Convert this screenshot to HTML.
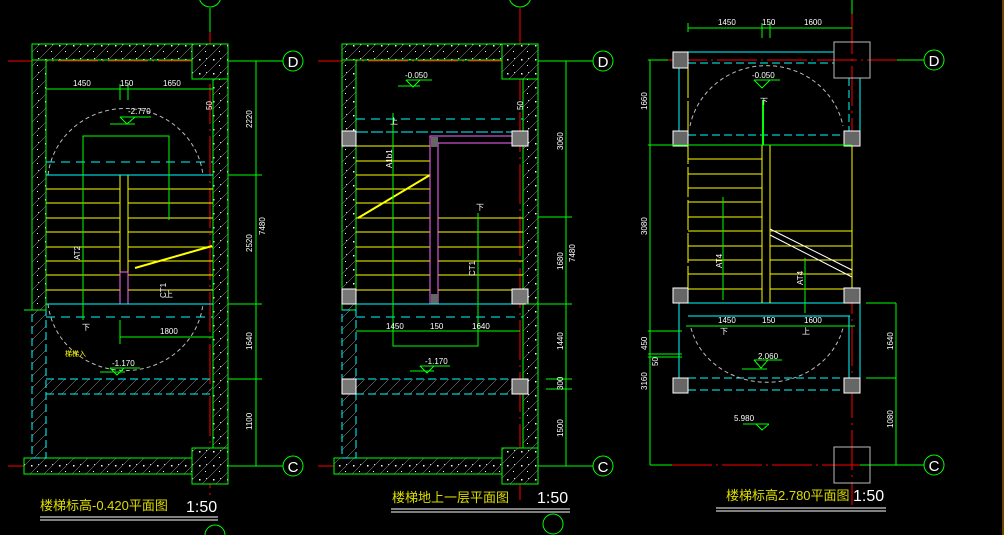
<!DOCTYPE html>
<html><head><meta charset="utf-8"><style>
html,body{margin:0;padding:0;background:#000;}
svg{display:block}
text{font-family:"Liberation Sans","Noto Sans CJK SC",sans-serif;}
</style></head><body>
<svg width="1004" height="535" viewBox="0 0 1004 535" xmlns="http://www.w3.org/2000/svg" shape-rendering="crispEdges">
<defs>
<pattern id="con" width="14" height="14" patternUnits="userSpaceOnUse">
<rect width="14" height="14" fill="#000"/>
<path d="M0 14L14 0" stroke="#ccc" stroke-width="0.8"/>
<rect x="3" y="3" width="1.5" height="1.5" fill="#fff"/><rect x="9" y="9" width="1.2" height="1.2" fill="#fff"/><rect x="10" y="2" width="1" height="1" fill="#ddd"/>
</pattern>
<pattern id="hat" width="12" height="12" patternUnits="userSpaceOnUse">
<path d="M0 12L12 0" stroke="#ccc" stroke-width="0.8"/>
</pattern>
</defs>
<rect width="1004" height="535" fill="#000"/>
<line x1="1003" y1="0" x2="1003" y2="535" stroke="#d08a00" stroke-width="1"/>

<g>
<line x1="8" y1="61" x2="228" y2="61" stroke="#f00" stroke-dasharray="40,4,2,4"/>
<line x1="228" y1="61" x2="283" y2="61" stroke="#0f0"/>
<line x1="8" y1="466" x2="228" y2="466" stroke="#f00" stroke-dasharray="40,4,2,4"/>
<line x1="228" y1="466" x2="283" y2="466" stroke="#0f0"/>
<line x1="210" y1="8" x2="210" y2="32" stroke="#0f0"/>
<line x1="210" y1="32" x2="210" y2="500" stroke="#f00" stroke-dasharray="40,5,2,5"/>
<circle cx="210" cy="-4" r="11" fill="none" stroke="#0f0" shape-rendering="auto"/>
<circle cx="293" cy="61" r="10" fill="none" stroke="#0f0" shape-rendering="auto"/>
<text x="293" y="67" fill="#fff" font-size="15" text-anchor="middle">D</text>
<circle cx="293" cy="466" r="10" fill="none" stroke="#0f0" shape-rendering="auto"/>
<text x="293" y="472" fill="#fff" font-size="15" text-anchor="middle">C</text>
<circle cx="215" cy="535" r="10" fill="none" stroke="#0f0" shape-rendering="auto"/>
<rect x="32" y="44" width="196" height="16" fill="url(#con)" stroke="#0f0"/>
<rect x="32" y="60" width="14" height="250" fill="url(#con)" stroke="#0f0"/>
<rect x="192" y="44" width="36" height="35" fill="url(#con)" stroke="#0f0"/>
<rect x="213" y="79" width="15" height="370" fill="url(#con)" stroke="#0f0"/>
<rect x="24" y="458" width="168" height="16" fill="url(#con)" stroke="#0f0"/>
<rect x="192" y="448" width="36" height="36" fill="url(#con)" stroke="#0f0"/>
<rect x="32" y="310" width="14" height="148" fill="url(#hat)" stroke="#0ff" stroke-dasharray="8,4"/>
<line x1="24" y1="310" x2="46" y2="310" stroke="#0f0"/>
<rect x="46" y="379" width="167" height="15" fill="url(#hat)"/>
<line x1="46" y1="379" x2="213" y2="379" stroke="#0ff" stroke-dasharray="8,4"/>
<line x1="46" y1="394" x2="213" y2="394" stroke="#0ff" stroke-dasharray="8,4"/>
<g stroke="#ff0">
<line x1="46" y1="189" x2="120" y2="189"/><line x1="46" y1="203" x2="120" y2="203"/><line x1="46" y1="218" x2="120" y2="218"/><line x1="46" y1="232" x2="120" y2="232"/><line x1="46" y1="247" x2="120" y2="247"/><line x1="46" y1="261" x2="120" y2="261"/><line x1="46" y1="275" x2="120" y2="275"/><line x1="46" y1="290" x2="120" y2="290"/>
<line x1="128" y1="189" x2="213" y2="189"/><line x1="128" y1="203" x2="213" y2="203"/><line x1="128" y1="218" x2="213" y2="218"/><line x1="128" y1="232" x2="213" y2="232"/><line x1="128" y1="247" x2="213" y2="247"/><line x1="128" y1="261" x2="213" y2="261"/><line x1="128" y1="275" x2="213" y2="275"/><line x1="128" y1="290" x2="213" y2="290"/>
<line x1="120" y1="175" x2="120" y2="304"/><line x1="128" y1="175" x2="128" y2="304"/>
<line x1="135" y1="268" x2="212" y2="246" stroke-width="2" shape-rendering="auto"/>
</g>
<rect x="120" y="272" width="8" height="32" fill="none" stroke="#f6f"/>
<line x1="46" y1="162" x2="213" y2="162" stroke="#0ff" stroke-dasharray="9,6"/>
<line x1="46" y1="175" x2="213" y2="175" stroke="#0ff"/>
<line x1="46" y1="304" x2="213" y2="304" stroke="#0ff"/>
<line x1="46" y1="317" x2="213" y2="317" stroke="#0ff" stroke-dasharray="9,6"/>
<path d="M48 175A78 75 0 0 1 203 175" fill="none" stroke="#bbb" stroke-dasharray="4,3" shape-rendering="auto"/>
<path d="M48 304A78 75 0 0 0 203 304" fill="none" stroke="#bbb" stroke-dasharray="4,3" shape-rendering="auto"/>
<g stroke="#0f0" fill="none">
<path d="M83 320V136H169V220"/>
<line x1="46" y1="89" x2="213" y2="89"/>
<line x1="120" y1="84" x2="120" y2="100"/><line x1="128" y1="84" x2="128" y2="100"/>
<path d="M120 117H151M110 124H135M120 117L127 124L135 117"/>
<path d="M120 320V344M120 337H213"/>
<path d="M110 368H140M100 372H125M110 368L117 375L124 368"/>
<line x1="256" y1="61" x2="256" y2="466"/>
<line x1="228" y1="175" x2="262" y2="175"/><line x1="228" y1="304" x2="262" y2="304"/><line x1="228" y1="379" x2="262" y2="379"/>
</g>
<g fill="#fff" font-size="8">
<text x="73" y="86">1450</text><text x="120" y="86">150</text><text x="163" y="86">1650</text>
<text x="128" y="114">-2.770</text><text x="112" y="366">-1.170</text><text x="160" y="334">1800</text>
<text x="82" y="330">下</text><text x="165" y="297">上</text>
<text transform="translate(252,128) rotate(-90)">2220</text><text transform="translate(252,252) rotate(-90)">2520</text>
<text transform="translate(252,350) rotate(-90)">1640</text><text transform="translate(252,430) rotate(-90)">1100</text>
<text transform="translate(265,235) rotate(-90)">7480</text><text transform="translate(80,260) rotate(-90)">AT2</text>
<text transform="translate(166,298) rotate(-90)">CT1</text><text transform="translate(212,110) rotate(-90)">50</text>
</g>
<text x="65" y="356" fill="#ff0" font-size="7">梯梯入</text>
<text x="40" y="510" fill="#dd0" font-size="13">楼梯标高-0.420平面图</text>
<text x="186" y="512" fill="#fff" font-size="16">1:50</text>
<line x1="40" y1="517" x2="218" y2="517" stroke="#fff"/><line x1="40" y1="520" x2="218" y2="520" stroke="#fff"/>
</g>

<g>
<line x1="318" y1="61" x2="538" y2="61" stroke="#f00" stroke-dasharray="40,4,2,4"/>
<line x1="538" y1="61" x2="593" y2="61" stroke="#0f0"/>
<line x1="318" y1="466" x2="538" y2="466" stroke="#f00" stroke-dasharray="40,4,2,4"/>
<line x1="538" y1="466" x2="593" y2="466" stroke="#0f0"/>
<line x1="520" y1="8" x2="520" y2="500" stroke="#f00" stroke-dasharray="40,5,2,5"/>
<circle cx="520" cy="-4" r="11" fill="none" stroke="#0f0" shape-rendering="auto"/>
<circle cx="603" cy="61" r="10" fill="none" stroke="#0f0" shape-rendering="auto"/>
<text x="603" y="67" fill="#fff" font-size="15" text-anchor="middle">D</text>
<circle cx="603" cy="466" r="10" fill="none" stroke="#0f0" shape-rendering="auto"/>
<text x="603" y="472" fill="#fff" font-size="15" text-anchor="middle">C</text>
<circle cx="553" cy="524" r="10" fill="none" stroke="#0f0" shape-rendering="auto"/>
<rect x="342" y="44" width="196" height="16" fill="url(#con)" stroke="#0f0"/>
<rect x="342" y="60" width="14" height="250" fill="url(#con)" stroke="#0f0"/>
<rect x="502" y="44" width="36" height="35" fill="url(#con)" stroke="#0f0"/>
<rect x="523" y="79" width="15" height="370" fill="url(#con)" stroke="#0f0"/>
<rect x="334" y="458" width="168" height="16" fill="url(#con)" stroke="#0f0"/>
<rect x="502" y="448" width="36" height="36" fill="url(#con)" stroke="#0f0"/>
<rect x="342" y="310" width="14" height="148" fill="url(#hat)" stroke="#0ff" stroke-dasharray="8,4"/>
<rect x="356" y="379" width="167" height="15" fill="url(#hat)"/>
<line x1="356" y1="379" x2="523" y2="379" stroke="#0ff" stroke-dasharray="8,4"/>
<line x1="356" y1="394" x2="523" y2="394" stroke="#0ff" stroke-dasharray="8,4"/>
<g stroke="#ff0">
<line x1="356" y1="146" x2="430" y2="146"/><line x1="356" y1="161" x2="430" y2="161"/><line x1="356" y1="175" x2="430" y2="175"/><line x1="356" y1="189" x2="430" y2="189"/><line x1="356" y1="203" x2="430" y2="203"/><line x1="356" y1="218" x2="430" y2="218"/><line x1="356" y1="232" x2="430" y2="232"/><line x1="356" y1="247" x2="430" y2="247"/><line x1="356" y1="261" x2="430" y2="261"/><line x1="356" y1="275" x2="430" y2="275"/><line x1="356" y1="290" x2="430" y2="290"/>
<line x1="438" y1="218" x2="523" y2="218"/><line x1="438" y1="232" x2="523" y2="232"/><line x1="438" y1="247" x2="523" y2="247"/><line x1="438" y1="261" x2="523" y2="261"/><line x1="438" y1="275" x2="523" y2="275"/><line x1="438" y1="290" x2="523" y2="290"/>
<line x1="358" y1="218" x2="430" y2="175" stroke-width="2" shape-rendering="auto"/>
</g>
<path d="M430 304V136H521V143H438V304Z" fill="none" stroke="#f6f"/>
<rect x="431" y="137" width="7" height="10" fill="#666"/><rect x="431" y="294" width="7" height="10" fill="#666"/>
<line x1="356" y1="119" x2="523" y2="119" stroke="#0ff" stroke-dasharray="9,6"/>
<line x1="356" y1="132" x2="523" y2="132" stroke="#0ff" stroke-dasharray="12,3"/>
<line x1="356" y1="304" x2="523" y2="304" stroke="#0ff"/>
<line x1="356" y1="317" x2="523" y2="317" stroke="#0ff" stroke-dasharray="9,6"/>
<g fill="#777" stroke="#fff">
<rect x="342" y="131" width="14" height="15"/><rect x="512" y="131" width="16" height="15"/>
<rect x="342" y="289" width="14" height="15"/><rect x="512" y="289" width="16" height="15"/>
<rect x="342" y="379" width="14" height="15"/><rect x="512" y="379" width="16" height="15"/>
</g>
<g stroke="#0f0" fill="none">
<path d="M393 113V346H478V213"/>
<line x1="356" y1="331" x2="520" y2="331"/>
<path d="M406 80H432M398 86H420M406 80L413 87L420 80"/>
<path d="M420 366H450M410 371H434M420 366L427 373L434 366"/>
<line x1="566" y1="61" x2="566" y2="466"/>
<line x1="538" y1="217" x2="572" y2="217"/><line x1="526" y1="304" x2="572" y2="304"/><line x1="546" y1="379" x2="572" y2="379"/><line x1="546" y1="389" x2="572" y2="389"/>
</g>
<g fill="#fff" font-size="8">
<text x="386" y="329">1450</text><text x="430" y="329">150</text><text x="472" y="329">1640</text>
<text x="405" y="78">-0.050</text><text x="425" y="364">-1.170</text>
<text x="390" y="124">上</text><text x="476" y="210">下</text>
<text transform="translate(563,150) rotate(-90)">3060</text><text transform="translate(563,270) rotate(-90)">1680</text>
<text transform="translate(563,350) rotate(-90)">1440</text><text transform="translate(563,390) rotate(-90)">300</text><text transform="translate(563,437) rotate(-90)">1500</text>
<text transform="translate(575,262) rotate(-90)">7480</text><text transform="translate(392,168) rotate(-90)">A1b1</text>
<text transform="translate(475,276) rotate(-90)">CT1</text><text transform="translate(523,110) rotate(-90)">50</text>
</g>
<text x="392" y="502" fill="#dd0" font-size="13">楼梯地上一层平面图</text>
<text x="537" y="503" fill="#fff" font-size="16">1:50</text>
<line x1="391" y1="509" x2="570" y2="509" stroke="#fff"/><line x1="391" y1="512" x2="570" y2="512" stroke="#fff"/>
</g>

<g>
<line x1="852" y1="0" x2="852" y2="14" stroke="#0f0"/>
<line x1="852" y1="14" x2="852" y2="505" stroke="#f00" stroke-dasharray="40,5,2,5"/>
<line x1="667" y1="60" x2="897" y2="60" stroke="#f00" stroke-dasharray="40,4,2,4"/>
<line x1="648" y1="60" x2="668" y2="60" stroke="#0f0"/><line x1="897" y1="60" x2="924" y2="60" stroke="#0f0"/>
<line x1="672" y1="465" x2="860" y2="465" stroke="#f00" stroke-dasharray="40,4,2,4"/>
<line x1="650" y1="465" x2="672" y2="465" stroke="#0f0"/><line x1="860" y1="465" x2="924" y2="465" stroke="#0f0"/>
<circle cx="934" cy="60" r="10" fill="none" stroke="#0f0" shape-rendering="auto"/>
<text x="934" y="66" fill="#fff" font-size="15" text-anchor="middle">D</text>
<circle cx="934" cy="465" r="10" fill="none" stroke="#0f0" shape-rendering="auto"/>
<text x="934" y="471" fill="#fff" font-size="15" text-anchor="middle">C</text>
<g stroke="#0ff" fill="none">
<line x1="688" y1="52" x2="834" y2="52"/>
<line x1="688" y1="63" x2="834" y2="63" stroke-dasharray="8,4"/>
<line x1="679" y1="68" x2="679" y2="131"/><line x1="860" y1="78" x2="860" y2="131"/>
<line x1="849" y1="78" x2="849" y2="131" stroke-dasharray="8,4"/>
<line x1="688" y1="135" x2="844" y2="135" stroke-dasharray="8,4"/>
<line x1="688" y1="303" x2="844" y2="303"/>
<line x1="688" y1="316" x2="850" y2="316"/>
<line x1="679" y1="303" x2="679" y2="378"/><line x1="860" y1="303" x2="860" y2="378"/><line x1="849" y1="316" x2="849" y2="378"/>
<line x1="688" y1="378" x2="844" y2="378" stroke-dasharray="8,4"/>
<line x1="688" y1="390" x2="844" y2="390" stroke-dasharray="8,4"/>
</g>
<g stroke="#ff0">
<line x1="688" y1="68" x2="688" y2="288" stroke-dasharray="30,3"/><line x1="762" y1="145" x2="762" y2="303"/><line x1="770" y1="145" x2="770" y2="303"/><line x1="852" y1="145" x2="852" y2="288"/>
<line x1="688" y1="159" x2="762" y2="159"/><line x1="688" y1="174" x2="762" y2="174"/><line x1="688" y1="188" x2="762" y2="188"/><line x1="688" y1="202" x2="762" y2="202"/><line x1="688" y1="217" x2="762" y2="217"/><line x1="688" y1="231" x2="762" y2="231"/><line x1="688" y1="246" x2="762" y2="246"/><line x1="688" y1="260" x2="762" y2="260"/><line x1="688" y1="274" x2="762" y2="274"/><line x1="688" y1="289" x2="762" y2="289"/>
<line x1="770" y1="231" x2="852" y2="231"/><line x1="770" y1="246" x2="852" y2="246"/><line x1="770" y1="260" x2="852" y2="260"/><line x1="770" y1="274" x2="852" y2="274"/><line x1="770" y1="289" x2="852" y2="289"/>
</g>
<path d="M770 229L852 270M770 235L852 277" stroke="#fff" fill="none" shape-rendering="auto"/>
<path d="M690 126A78 75 0 0 1 843 126" fill="none" stroke="#bbb" stroke-dasharray="4,3" shape-rendering="auto"/>
<path d="M691 328A78 70 0 0 0 843 328" fill="none" stroke="#bbb" stroke-dasharray="4,3" shape-rendering="auto"/>
<g fill="#666" stroke="#fff">
<rect x="673" y="52" width="15" height="16"/><rect x="673" y="131" width="15" height="15"/><rect x="844" y="131" width="16" height="15"/>
<rect x="673" y="288" width="15" height="15"/><rect x="844" y="288" width="16" height="15"/>
<rect x="673" y="378" width="15" height="15"/><rect x="844" y="378" width="16" height="15"/>
</g>
<rect x="834" y="42" width="36" height="36" fill="none" stroke="#bbb"/>
<rect x="834" y="447" width="36" height="36" fill="none" stroke="#bbb"/>
<g stroke="#0f0" fill="none">
<line x1="688" y1="28" x2="852" y2="28"/><line x1="688" y1="23" x2="688" y2="32"/><line x1="762" y1="23" x2="762" y2="38"/><line x1="770" y1="23" x2="770" y2="38"/>
<line x1="650" y1="60" x2="650" y2="465"/><line x1="648" y1="145" x2="852" y2="145"/>
<line x1="648" y1="331" x2="682" y2="331"/><line x1="648" y1="354" x2="682" y2="354"/><line x1="648" y1="357" x2="682" y2="357"/>
<line x1="686" y1="326" x2="855" y2="326"/>
<line x1="763" y1="100" x2="763" y2="145" stroke-width="2"/>
<line x1="723" y1="197" x2="723" y2="300"/><line x1="805" y1="258" x2="805" y2="313"/>
<path d="M754 360H782M742 369H767M754 360L761 368L768 360"/>
<path d="M743 424H769M756 424L762 430L769 424"/>
<path d="M754 80H780M754 80L762 88L770 80"/>
<line x1="866" y1="303" x2="896" y2="303"/><line x1="866" y1="378" x2="896" y2="378"/><line x1="896" y1="303" x2="896" y2="465"/>
</g>
<g fill="#fff" font-size="8">
<text x="718" y="25">1450</text><text x="762" y="25">150</text><text x="804" y="25">1600</text>
<text x="718" y="323">1450</text><text x="762" y="323">150</text><text x="804" y="323">1600</text>
<text x="752" y="78">-0.050</text><text x="758" y="359">2.060</text><text x="734" y="421">5.980</text>
<text x="760" y="104">下</text><text x="720" y="334">下</text><text x="802" y="334">上</text>
<text transform="translate(647,110) rotate(-90)">1660</text><text transform="translate(647,235) rotate(-90)">3080</text>
<text transform="translate(647,350) rotate(-90)">450</text><text transform="translate(658,366) rotate(-90)">50</text><text transform="translate(647,390) rotate(-90)">3160</text>
<text transform="translate(893,350) rotate(-90)">1640</text><text transform="translate(893,428) rotate(-90)">1080</text>
<text transform="translate(722,268) rotate(-90)">AT4</text><text transform="translate(803,285) rotate(-90)">AT4</text>
</g>
<text x="726" y="500" fill="#dd0" font-size="13">楼梯标高2.780平面图</text>
<text x="853" y="501" fill="#fff" font-size="16">1:50</text>
<line x1="716" y1="508" x2="886" y2="508" stroke="#fff"/><line x1="716" y1="511" x2="886" y2="511" stroke="#fff"/>
</g>
</svg>
</body></html>
